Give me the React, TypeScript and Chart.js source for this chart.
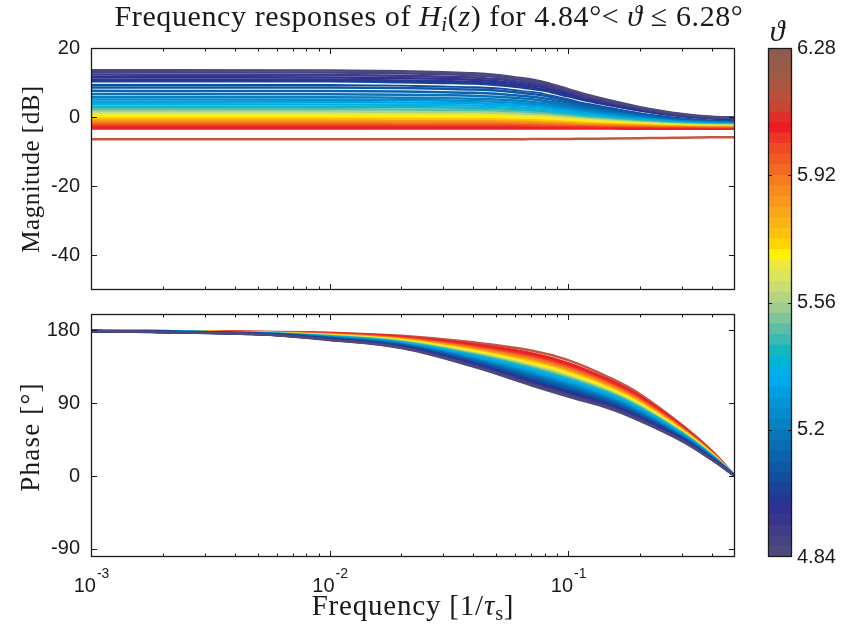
import React, { useEffect, useRef } from 'react';
import { Chart, registerables } from 'chart.js';
Chart.register(...registerables);

// ---------- data ----------
const MAG_FREQ = [0.001, 0.01, 0.02, 0.03, 0.04, 0.05, 0.06, 0.07, 0.08, 0.1, 0.12, 0.15, 0.2, 0.25, 0.3, 0.4, 0.5];
const PHASE_FREQ = [0.001, 0.005, 0.01, 0.02, 0.04, 0.07, 0.1, 0.15, 0.2, 0.3, 0.4, 0.5];

const THETA = [4.84, 4.88, 4.92, 4.96, 5.0, 5.03, 5.06, 5.12, 5.18, 5.24, 5.3, 5.36, 5.42, 5.48,
  5.54, 5.6, 5.66, 5.72, 5.78, 5.84, 5.9, 5.96, 6.02, 6.08, 6.14, 6.2, 6.28];

const CURVE_COLORS = ['#4c4a7d', '#474383', '#3e3a8a', '#2e3192', '#243893', '#1a4398', '#124e9e',
  '#0d59a5', '#0a63ac', '#0871b8', '#0681c2', '#0391d2', '#00a5e6', '#00b0e6', '#16b6bf', '#5ebea5',
  '#b6d47f', '#ece83f', '#fff200', '#fec20e', '#f8991c', '#f57c20', '#f15a22', '#ee3524', '#ed1c24',
  '#e0262a', '#c4573f'];

const MAG_DB = [
  [13.6, 13.5, 13.3, 13.0, 12.7, 12.2, 11.5, 10.9, 10.0, 8.1, 6.5, 4.8, 2.9, 1.7, 0.9, 0.1, -0.1],
  [13.0, 12.9, 12.7, 12.4, 12.1, 11.7, 11.0, 10.4, 9.6, 7.7, 6.1, 4.6, 2.7, 1.5, 0.8, 0.0, -0.2],
  [12.3, 12.2, 12.0, 11.7, 11.5, 11.0, 10.4, 9.8, 9.0, 7.3, 5.7, 4.2, 2.5, 1.3, 0.6, -0.1, -0.3],
  [11.6, 11.5, 11.3, 11.1, 10.8, 10.4, 9.8, 9.2, 8.5, 6.8, 5.4, 3.9, 2.2, 1.2, 0.5, -0.2, -0.4],
  [10.9, 10.8, 10.6, 10.4, 10.2, 9.8, 9.2, 8.6, 7.9, 6.3, 5.0, 3.6, 2.0, 1.0, 0.4, -0.3, -0.5],
  [10.4, 10.35, 10.1, 9.9, 9.7, 9.3, 8.8, 8.2, 7.6, 6.0, 4.7, 3.4, 1.9, 0.9, 0.3, -0.35, -0.55],
  [9.4, 9.35, 9.2, 8.9, 8.75, 8.4, 7.9, 7.4, 6.8, 5.4, 4.2, 3.0, 1.6, 0.7, 0.1, -0.5, -0.65],
  [8.6, 8.55, 8.4, 8.2, 8.0, 7.7, 7.2, 6.7, 6.2, 4.8, 3.7, 2.6, 1.3, 0.4, -0.1, -0.6, -0.8],
  [7.6, 7.55, 7.4, 7.2, 7.05, 6.75, 6.3, 5.9, 5.4, 4.2, 3.2, 2.2, 1.0, 0.2, -0.3, -0.75, -0.9],
  [6.7, 6.65, 6.5, 6.35, 6.2, 5.9, 5.55, 5.2, 4.7, 3.6, 2.7, 1.8, 0.7, 0.0, -0.4, -0.85, -1.0],
  [5.8, 5.75, 5.6, 5.5, 5.35, 5.1, 4.8, 4.4, 4.0, 3.0, 2.2, 1.4, 0.4, -0.2, -0.6, -1.0, -1.1],
  [5.1, 5.05, 4.95, 4.8, 4.7, 4.45, 4.15, 3.8, 3.45, 2.55, 1.8, 1.0, 0.15, -0.4, -0.75, -1.15, -1.25],
  [4.4, 4.35, 4.25, 4.15, 4.05, 3.8, 3.55, 3.25, 2.9, 2.1, 1.4, 0.7, -0.1, -0.6, -0.9, -1.25, -1.35],
  [3.7, 3.65, 3.55, 3.45, 3.35, 3.2, 2.95, 2.65, 2.35, 1.65, 1.0, 0.4, -0.3, -0.8, -1.05, -1.35, -1.45],
  [3.0, 2.95, 2.9, 2.8, 2.7, 2.55, 2.3, 2.1, 1.8, 1.2, 0.65, 0.1, -0.55, -0.95, -1.2, -1.45, -1.55],
  [2.3, 2.3, 2.2, 2.1, 2.05, 1.9, 1.7, 1.5, 1.25, 0.7, 0.2, -0.25, -0.8, -1.2, -1.4, -1.65, -1.7],
  [1.6, 1.6, 1.5, 1.45, 1.4, 1.25, 1.1, 0.9, 0.7, 0.25, -0.15, -0.6, -1.05, -1.35, -1.55, -1.75, -1.8],
  [1.0, 1.0, 0.95, 0.85, 0.8, 0.7, 0.55, 0.4, 0.25, -0.2, -0.55, -0.9, -1.3, -1.55, -1.75, -1.9, -1.95],
  [0.3, 0.3, 0.25, 0.2, 0.15, 0.05, -0.05, -0.2, -0.3, -0.65, -0.95, -1.25, -1.55, -1.8, -1.9, -2.05, -2.1],
  [-0.3, -0.3, -0.35, -0.4, -0.45, -0.5, -0.6, -0.7, -0.8, -1.1, -1.3, -1.55, -1.8, -2.0, -2.1, -2.2, -2.25],
  [-0.9, -0.9, -0.95, -0.95, -1.0, -1.05, -1.1, -1.2, -1.3, -1.5, -1.7, -1.85, -2.05, -2.2, -2.3, -2.35, -2.4],
  [-1.4, -1.4, -1.45, -1.45, -1.5, -1.5, -1.55, -1.65, -1.7, -1.85, -2.0, -2.15, -2.3, -2.4, -2.45, -2.55, -2.55],
  [-1.9, -1.9, -1.9, -1.95, -1.95, -2.0, -2.0, -2.05, -2.1, -2.2, -2.3, -2.4, -2.5, -2.6, -2.65, -2.7, -2.7],
  [-2.4, -2.4, -2.4, -2.4, -2.45, -2.45, -2.45, -2.5, -2.55, -2.6, -2.65, -2.7, -2.8, -2.85, -2.85, -2.9, -2.9],
  [-2.9, -2.9, -2.9, -2.9, -2.9, -2.9, -2.95, -2.95, -2.95, -3.0, -3.0, -3.05, -3.05, -3.1, -3.1, -3.1, -3.1],
  [-3.3, -3.3, -3.3, -3.3, -3.3, -3.3, -3.3, -3.3, -3.3, -3.3, -3.3, -3.3, -3.35, -3.35, -3.35, -3.35, -3.35],
  [-6.4, -6.4, -6.4, -6.4, -6.4, -6.4, -6.4, -6.35, -6.35, -6.3, -6.25, -6.2, -6.1, -6.0, -5.95, -5.85, -5.8],
];

// the white curve that shows as a gap in the magnitude band
const WHITE_MAG_DB = [9.9, 9.85, 9.6, 9.4, 9.2, 8.9, 8.3, 7.8, 7.2, 5.7, 4.4, 3.2, 1.7, 0.8, 0.2, -0.4, -0.6];
const WHITE_AFTER = 5;

const PHASE_DEG = [
  [179, 175, 168, 158, 135, 112, 98, 83, 68, 43, 20, 0],
  [179, 175.1, 168.3, 158.5, 135.9, 113.3, 99.4, 84.1, 69, 43.6, 20.3, 0],
  [179, 175.2, 168.5, 158.9, 136.8, 114.6, 100.7, 85.3, 70, 44.2, 20.7, 0],
  [179, 175.3, 168.8, 159.4, 137.7, 115.9, 102.1, 86.4, 71, 44.8, 21, 0],
  [179.1, 175.4, 169.1, 159.8, 138.6, 117.2, 103.4, 87.6, 72, 45.4, 21.3, 0],
  [179.1, 175.4, 169.3, 160.1, 139.2, 118, 104.3, 88.3, 72.6, 45.8, 21.5, 0],
  [179.1, 175.5, 169.4, 160.4, 139.8, 118.9, 105.2, 89.1, 73.3, 46.2, 21.8, 0],
  [179.1, 175.6, 169.8, 161, 141, 120.6, 107, 90.6, 74.6, 47, 22.2, 0],
  [179.1, 175.7, 170.2, 161.6, 142.2, 122.3, 108.8, 92.1, 75.9, 47.8, 22.6, 0],
  [179.1, 175.8, 170.5, 162.2, 143.4, 124, 110.6, 93.6, 77.2, 48.6, 23.1, 0],
  [179.2, 176, 170.9, 162.8, 144.6, 125.8, 112.4, 95.2, 78.6, 49.4, 23.5, 0],
  [179.2, 176.1, 171.2, 163.4, 145.8, 127.5, 114.2, 96.7, 79.9, 50.2, 24, 0],
  [179.2, 176.2, 171.6, 164, 147, 129.2, 116, 98.2, 81.2, 51, 24.4, 0],
  [179.2, 176.3, 172, 164.6, 148.2, 130.9, 117.8, 99.7, 82.5, 51.8, 24.8, 0],
  [179.2, 176.4, 172.3, 165.2, 149.4, 132.6, 119.6, 101.2, 83.8, 52.6, 25.3, 0],
  [179.3, 176.6, 172.7, 165.8, 150.6, 134.4, 121.4, 102.8, 85.2, 53.4, 25.7, 0],
  [179.3, 176.7, 173, 166.4, 151.8, 136.1, 123.2, 104.3, 86.5, 54.2, 26.2, 0],
  [179.3, 176.8, 173.4, 167, 153, 137.8, 125, 105.8, 87.8, 55, 26.6, 0],
  [179.3, 176.9, 173.8, 167.6, 154.2, 139.5, 126.8, 107.3, 89.1, 55.8, 27, 0],
  [179.3, 177, 174.1, 168.2, 155.4, 141.2, 128.6, 108.8, 90.4, 56.6, 27.5, 0],
  [179.4, 177.2, 174.5, 168.8, 156.6, 143, 130.4, 110.4, 91.8, 57.4, 27.9, 0],
  [179.4, 177.3, 174.8, 169.4, 157.8, 144.7, 132.2, 111.9, 93.1, 58.2, 28.4, 0],
  [179.4, 177.4, 175.2, 170, 159, 146.4, 134, 113.4, 94.4, 59, 28.8, 0],
  [179.4, 177.5, 175.6, 170.6, 160.2, 148.1, 135.8, 114.9, 95.7, 59.8, 29.2, 0],
  [179.4, 177.6, 175.9, 171.2, 161.4, 149.8, 137.6, 116.4, 97, 60.6, 29.7, 0],
  [179.5, 177.8, 176.3, 171.8, 162.6, 151.6, 139.4, 118, 98.4, 61.4, 30.1, 0],
  [179.5, 178, 177, 173, 165, 155, 143, 121, 101, 63, 31, 0],
];

const MAG_TICKS = [-40, -20, 0, 20];
const PHASE_TICKS = [-90, 0, 90, 180];
const X_MAJOR = [0.001, 0.01, 0.1];
const X_MINOR = [0.002, 0.003, 0.004, 0.005, 0.006, 0.007, 0.008, 0.009,
  0.02, 0.03, 0.04, 0.05, 0.06, 0.07, 0.08, 0.09, 0.2, 0.3, 0.4];
const X_TICK_LABELS = [['10', '-3'], ['10', '-2'], ['10', '-1']];

const CB_MIN = 4.84;
const CB_MAX = 6.28;
const CB_TICKS = [4.84, 5.2, 5.56, 5.92, 6.28];
const CB_TICK_LABELS = ['4.84', '5.2', '5.56', '5.92', '6.28'];
// colour bar, bottom (4.84) to top (6.28)
const COLORMAP = ['#4c4a7d', '#474383', '#413c88', '#38358d', '#2e3192', '#243893', '#1a4398',
  '#124e9e', '#0d59a5', '#0a63ac', '#086db3', '#0777ba', '#0681c2', '#048bcb', '#0395d5', '#009fe0',
  '#00a9eb', '#00b0e6', '#00b4d3', '#16b6bf', '#3cb9b1', '#5ebea5', '#7fc59c', '#9ecd8f', '#b6d47f',
  '#cbdc70', '#dde45c', '#ece83f', '#fff200', '#ffd305', '#fec20e', '#fcb415', '#faa61a', '#f8991c',
  '#f78b1e', '#f57c20', '#f36b21', '#f15a22', '#f04a23', '#ee3524', '#ed1c24', '#df2f29', '#c94533',
  '#b9503b', '#ab5641', '#a05945', '#965b49', '#8f5c4c'];

// ---------- helpers ----------
const TICK_FONT = 'Liberation Sans, Arial, Helvetica, sans-serif';
const INK = '#1a1a1a';

function framePlugin(o: any) {
  return {
    id: 'frame' + Math.random().toString(36).slice(2),
    afterDatasetsDraw(chart: any) {
      const { ctx, chartArea: a, scales } = chart;
      const x = scales.x, y = scales.y;
      ctx.save();
      ctx.strokeStyle = INK;
      ctx.lineWidth = 1;
      ctx.beginPath();
      const vt = (v: number, len: number) => {
        const px = Math.round(x.getPixelForValue(v)) + 0.5;
        ctx.moveTo(px, a.bottom); ctx.lineTo(px, a.bottom - len);
        ctx.moveTo(px, a.top); ctx.lineTo(px, a.top + len);
      };
      X_MAJOR.forEach((v) => vt(v, 6));
      X_MINOR.forEach((v) => vt(v, 3.5));
      o.yTicks.forEach((v: number) => {
        const py = Math.round(y.getPixelForValue(v)) + 0.5;
        ctx.moveTo(a.left, py); ctx.lineTo(a.left + 6, py);
        ctx.moveTo(a.right, py); ctx.lineTo(a.right - 6, py);
      });
      ctx.stroke();
      ctx.lineWidth = 1.3;
      ctx.strokeRect(Math.round(a.left) + 0.5, Math.round(a.top) + 0.5,
        Math.round(a.right - a.left) - 1, Math.round(a.bottom - a.top) - 1);
      if (o.xLabels) {
        ctx.fillStyle = INK;
        ctx.textBaseline = 'alphabetic';
        ctx.textAlign = 'left';
        X_MAJOR.forEach((v, i) => {
          const [base, exp] = X_TICK_LABELS[i];
          ctx.font = `20px ${TICK_FONT}`;
          const wb = ctx.measureText(base).width;
          ctx.font = `14px ${TICK_FONT}`;
          const we = ctx.measureText(exp).width;
          const px = x.getPixelForValue(v);
          const x0 = px - (wb + we) / 2;
          ctx.font = `20px ${TICK_FONT}`;
          ctx.fillText(base, x0, 592);
          ctx.font = `14px ${TICK_FONT}`;
          ctx.fillText(exp, x0 + wb + 1, 578);
        });
      }
      ctx.restore();
    },
  };
}

function lineDataset(freq: number[], row: number[], color: string, width: number) {
  return {
    data: row.map((v, j) => ({ x: freq[j], y: v })),
    borderColor: color,
    borderWidth: width,
    pointRadius: 0,
    cubicInterpolationMode: 'monotone',
    fill: false,
  };
}

function baseOptions(padding: any) {
  return {
    responsive: false,
    animation: false,
    devicePixelRatio: 1,
    layout: { padding },
    plugins: { legend: { display: false }, tooltip: { enabled: false }, title: { display: false } },
    events: [],
  };
}

function plotScales(yMin: number, yMax: number, yTicks: number[], xHeight: number) {
  return {
    x: {
      type: 'logarithmic', min: 0.001, max: 0.5,
      grid: { display: false }, border: { display: false },
      ticks: { display: false },
      afterFit: (s: any) => { s.height = xHeight; },
    },
    y: {
      type: 'linear', min: yMin, max: yMax,
      grid: { display: false, drawTicks: false }, border: { display: false },
      ticks: { color: INK, padding: 11, font: { family: TICK_FONT, size: 20 } },
      afterBuildTicks: (s: any) => { s.ticks = yTicks.map((v) => ({ value: v })); },
      afterFit: (s: any) => { s.width = 91; },
    },
  };
}

function magConfig(): any {
  const datasets: any[] = [];
  MAG_DB.forEach((row, i) => {
    datasets.push(lineDataset(MAG_FREQ, row, CURVE_COLORS[i], 2.5));
    if (i === WHITE_AFTER) datasets.push(lineDataset(MAG_FREQ, WHITE_MAG_DB, '#ffffff', 1.8));
  });
  return {
    type: 'line',
    data: { datasets },
    options: { ...baseOptions({ left: 0, top: 48, right: 109, bottom: 0 }), scales: plotScales(-50, 20, MAG_TICKS, 342) },
    plugins: [framePlugin({ yTicks: MAG_TICKS, xLabels: false })],
  };
}

function phaseConfig(): any {
  const datasets = PHASE_DEG.map((row, i) => ({ ...lineDataset(PHASE_FREQ, row, CURVE_COLORS[i], 2.5), cubicInterpolationMode: 'default', tension: 0.4 }));
  return {
    type: 'line',
    data: { datasets },
    options: { ...baseOptions({ left: 0, top: 314, right: 109, bottom: 0 }), scales: plotScales(-100, 200, PHASE_TICKS, 75) },
    plugins: [framePlugin({ yTicks: PHASE_TICKS, xLabels: true })],
  };
}

function colorbarConfig(): any {
  const step = (CB_MAX - CB_MIN) / COLORMAP.length;
  const datasets = COLORMAP.map((c, i) => ({
    data: [[CB_MIN + i * step, CB_MIN + (i + 1) * step]],
    backgroundColor: c,
    borderWidth: 0,
    grouped: false,
    barPercentage: 1,
    categoryPercentage: 1,
  }));
  const cbPlugin = {
    id: 'cbframe',
    afterDatasetsDraw(chart: any) {
      const { ctx, chartArea: a, scales } = chart;
      ctx.save();
      ctx.strokeStyle = INK;
      ctx.lineWidth = 1;
      ctx.beginPath();
      CB_TICKS.slice(1, -1).forEach((v) => {
        const py = Math.round(scales.y.getPixelForValue(v)) + 0.5;
        ctx.moveTo(a.left, py); ctx.lineTo(a.left + 4, py);
        ctx.moveTo(a.right, py); ctx.lineTo(a.right - 4, py);
      });
      ctx.stroke();
      ctx.lineWidth = 1.3;
      ctx.strokeRect(Math.round(a.left) + 0.5, Math.round(a.top) + 0.5,
        Math.round(a.right - a.left) - 1, Math.round(a.bottom - a.top) - 1);
      ctx.restore();
    },
  };
  return {
    type: 'bar',
    data: { labels: ['theta'], datasets },
    options: {
      ...baseOptions({ left: 768, top: 48, right: 0, bottom: 75 }),
      scales: {
        x: { display: false },
        y: {
          position: 'right', min: CB_MIN, max: CB_MAX,
          grid: { display: false, drawTicks: false }, border: { display: false },
          ticks: {
            color: INK, padding: 5, font: { family: TICK_FONT, size: 20 },
            callback: (v: number) => {
              const i = CB_TICKS.findIndex((t) => Math.abs(t - v) < 1e-6);
              return i >= 0 ? CB_TICK_LABELS[i] : '';
            },
          },
          afterBuildTicks: (s: any) => { s.ticks = CB_TICKS.map((v) => ({ value: v })); },
          afterFit: (s: any) => { s.width = 52; },
        },
      },
    },
    plugins: [cbPlugin],
  };
}

const SERIF = 'Liberation Serif, "DejaVu Serif", serif';

export default function App() {
  const magRef = useRef<HTMLCanvasElement>(null);
  const phRef = useRef<HTMLCanvasElement>(null);
  const cbRef = useRef<HTMLCanvasElement>(null);

  useEffect(() => {
    const charts = [
      new Chart(magRef.current as HTMLCanvasElement, magConfig()),
      new Chart(phRef.current as HTMLCanvasElement, phaseConfig()),
      new Chart(cbRef.current as HTMLCanvasElement, colorbarConfig()),
    ];
    return () => charts.forEach((c) => c.destroy());
  }, []);

  const canvasStyle: React.CSSProperties = { position: 'absolute', left: 0, top: 0, width: 844, height: 632 };
  const label = (x: number, y: number, rot: number, size: number, ls = 0): React.CSSProperties => ({
    position: 'absolute', left: x, top: y, transform: `translate(-50%, -50%) rotate(${rot}deg)`,
    whiteSpace: 'nowrap', fontFamily: SERIF, fontSize: size, color: INK, lineHeight: 1, letterSpacing: ls,
  });
  const sub: React.CSSProperties = { fontSize: '0.7em', verticalAlign: '-0.25em' };

  return (
    <div style={{ position: 'absolute', left: 0, top: 0, width: 844, height: 632, background: '#fff', overflow: 'hidden' }}>
      <canvas ref={magRef} width={844} height={632} style={canvasStyle} />
      <canvas ref={phRef} width={844} height={632} style={canvasStyle} />
      <canvas ref={cbRef} width={844} height={632} style={canvasStyle} />
      <div style={label(429, 18, 0, 30, 0.6)}>
        Frequency responses of <i>H<sub style={sub}>i</sub></i>(<i>z</i>) for 4.84°&lt; <i>ϑ</i> ≤ 6.28°
      </div>
      <div style={label(777, 31, 0, 30)}><i>ϑ</i></div>
      <div style={label(30, 169, -90, 25, 0.5)}>Magnitude [dB]</div>
      <div style={label(30, 437, -90, 27, 1.2)}>Phase [°]</div>
      <div style={label(413, 607, 0, 29, 0.8)}>
        Frequency [1/<i>τ</i><sub style={sub}>s</sub>]
      </div>
    </div>
  );
}
